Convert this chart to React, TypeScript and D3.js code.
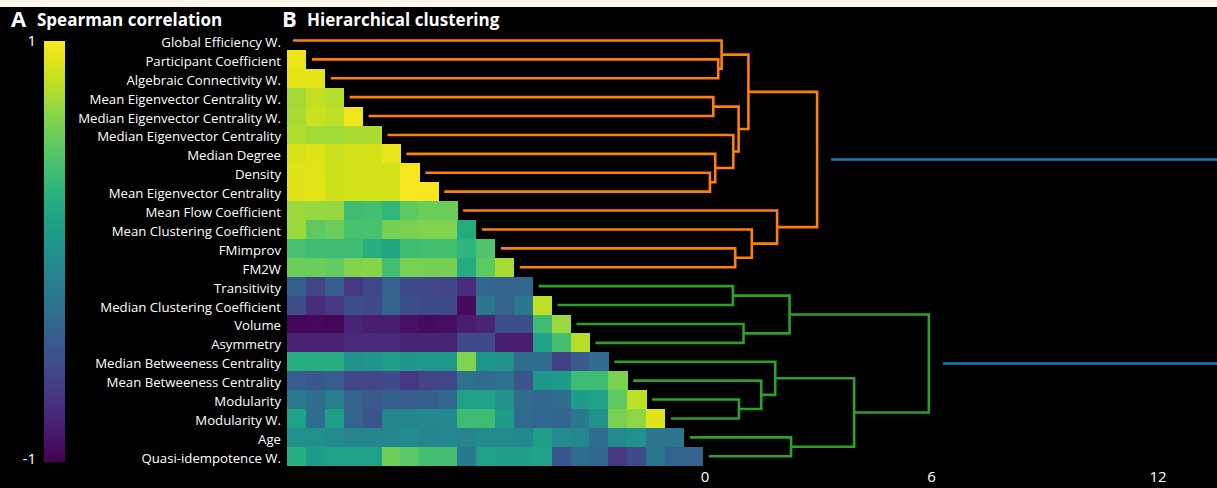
import React from "react";
import * as d3 from "d3";

const W = 1217;
const H = 488;

// Variables, in dendrogram leaf order (top to bottom)
const labels = [
  "Global Efficiency W.",
  "Participant Coefficient",
  "Algebraic Connectivity W.",
  "Mean Eigenvector Centrality W.",
  "Median Eigenvector Centrality W.",
  "Median Eigenvector Centrality",
  "Median Degree",
  "Density",
  "Mean Eigenvector Centrality",
  "Mean Flow Coefficient",
  "Mean Clustering Coefficient",
  "FMimprov",
  "FM2W",
  "Transitivity",
  "Median Clustering Coefficient",
  "Volume",
  "Asymmetry",
  "Median Betweeness Centrality",
  "Mean Betweeness Centrality",
  "Modularity",
  "Modularity W.",
  "Age",
  "Quasi-idempotence W.",
];

// Spearman correlations, lower triangle (row i holds columns 0..i-1)
const corr: number[][] = [
  [],
  [0.94],
  [0.92, 0.92],
  [0.72, 0.82, 0.78],
  [0.74, 0.84, 0.8, 0.96],
  [0.76, 0.72, 0.72, 0.74, 0.75],
  [0.88, 0.9, 0.85, 0.87, 0.87, 0.93],
  [0.9, 0.91, 0.85, 0.86, 0.86, 0.87, 0.97],
  [0.9, 0.92, 0.85, 0.86, 0.86, 0.86, 0.97, 0.98],
  [0.7, 0.68, 0.68, 0.38, 0.4, 0.32, 0.5, 0.55, 0.55],
  [0.7, 0.5, 0.55, 0.42, 0.42, 0.58, 0.6, 0.62, 0.62, 0.22],
  [0.42, 0.38, 0.38, 0.38, 0.25, 0.18, 0.38, 0.4, 0.4, 0.3, 0.45],
  [0.55, 0.55, 0.52, 0.62, 0.64, 0.4, 0.6, 0.58, 0.58, 0.22, 0.5, 0.74],
  [-0.4, -0.6, -0.42, -0.68, -0.57, -0.38, -0.55, -0.57, -0.6, -0.75, -0.35, -0.38, -0.35],
  [-0.52, -0.75, -0.68, -0.52, -0.55, -0.38, -0.52, -0.55, -0.55, -0.95, -0.2, -0.38, -0.2, 0.8],
  [-0.97, -0.96, -0.97, -0.8, -0.85, -0.85, -0.92, -0.95, -0.93, -0.85, -0.8, -0.52, -0.52, 0.38, 0.7],
  [-0.82, -0.82, -0.82, -0.76, -0.76, -0.78, -0.8, -0.8, -0.8, -0.55, -0.55, -0.84, -0.84, 0.15, 0.4, 0.78],
  [0.25, 0.25, 0.25, 0.02, 0.04, 0.12, 0.06, 0.08, 0.08, 0.62, 0.05, 0.0, -0.3, -0.3, -0.62, -0.43, -0.3],
  [-0.42, -0.46, -0.42, -0.58, -0.58, -0.55, -0.68, -0.6, -0.58, -0.25, -0.3, -0.25, -0.48, 0.05, 0.1, 0.38, 0.38, 0.6],
  [-0.18, -0.3, -0.15, -0.38, -0.45, -0.4, -0.42, -0.4, -0.35, 0.15, 0.15, 0.0, -0.3, -0.35, -0.3, 0.1, 0.15, 0.5, 0.8],
  [0.14, -0.3, 0.12, -0.38, -0.48, -0.1, -0.1, -0.08, -0.08, 0.38, 0.38, 0.1, -0.32, -0.35, -0.36, -0.2, 0.0, 0.6, 0.66, 0.9],
  [0.0, 0.02, -0.05, -0.1, -0.1, -0.08, -0.05, -0.1, -0.08, -0.1, -0.05, -0.05, -0.08, 0.12, -0.05, -0.08, -0.3, -0.05, 0.0, -0.22, -0.22],
  [0.25, 0.1, 0.14, 0.14, 0.14, 0.56, 0.48, 0.4, 0.4, -0.2, 0.14, 0.12, 0.12, 0.15, -0.48, -0.3, -0.35, -0.68, -0.55, -0.2, -0.38, -0.38],
];

// Linkage: [child a, child b, distance]; ids >= labels.length are earlier merges
const merges: [number, number, number][] = [
  [7, 8, 0.13], // 23
  [3, 4, 0.22], // 24
  [6, 23, 0.27], // 25
  [1, 2, 0.35], // 26
  [0, 26, 0.44], // 27
  [5, 25, 0.75], // 28
  [11, 12, 0.8], // 29
  [24, 28, 0.89], // 30
  [27, 30, 1.15], // 31
  [10, 29, 1.24], // 32
  [9, 32, 1.91], // 33
  [31, 33, 2.97], // 34
  [13, 14, 0.74], // 35
  [19, 20, 0.9], // 36
  [15, 16, 1.02], // 37
  [18, 36, 1.49], // 38
  [17, 38, 1.86], // 39
  [35, 37, 2.24], // 40
  [21, 22, 2.28], // 41
  [39, 41, 3.95], // 42
  [40, 42, 5.93], // 43
  [34, 43, 14.2], // 44
];

const clusterColors = ["#ff7f0e", "#2ca02c"];
const aboveColor = "#1f77b4";
const distTicks = [0, 6, 12];
const colorbarTicks = [1, -1];

export default function App() {
  const n = labels.length;
  const heat = { left: 287, top: 31, cell: 18.9 };

  const xCell = d3
    .scaleBand<number>()
    .domain(d3.range(n - 1))
    .range([heat.left, heat.left + (n - 1) * heat.cell]);
  const yRow = d3
    .scaleBand<number>()
    .domain(d3.range(n))
    .range([heat.top, heat.top + n * heat.cell]);
  const color = d3.scaleSequential(d3.interpolateViridis).domain([-1, 1]);
  const xDist = d3.scaleLinear().domain([0, 12]).range([705, 1158]);

  // cells
  const cells: { i: number; j: number; v: number }[] = [];
  corr.forEach((row, i) => row.forEach((v, j) => cells.push({ i, j, v })));

  // dendrogram node positions
  const nodes: { y: number; h: number }[] = labels.map((_, i) => ({
    y: (yRow(i) as number) + yRow.bandwidth() / 2,
    h: 0,
  }));
  merges.forEach(([a, b, h]) => nodes.push({ y: (nodes[a].y + nodes[b].y) / 2, h }));

  const rootId = nodes.length - 1;
  const group: number[] = new Array(nodes.length).fill(-1);
  const mark = (id: number, g: number) => {
    group[id] = g;
    if (id >= n) {
      const [a, b] = merges[id - n];
      mark(a, g);
      mark(b, g);
    }
  };
  const [rootA, rootB] = merges[rootId - n];
  mark(rootA, 0);
  mark(rootB, 1);

  const leafStart = (i: number) => (xCell(i) ?? heat.left + (n - 1) * heat.cell) + 6;
  const rootGap = 14;

  const links = merges.map(([a, b, h], k) => {
    const id = n + k;
    const isRoot = id === rootId;
    const startX = (c: number) =>
      c < n ? leafStart(c) : xDist(nodes[c].h) + (isRoot ? rootGap : 0);
    const xh = xDist(h);
    const d = `M${startX(a)},${nodes[a].y}H${xh}V${nodes[b].y}H${startX(b)}`;
    const stroke = isRoot ? aboveColor : clusterColors[group[id]];
    return { d, stroke, key: id };
  });

  const cb = { x: 44, y: 41, w: 21, h: 421 };
  const cbScale = d3.scaleLinear().domain([1, -1]).range([cb.y, cb.y + cb.h]);
  const stops = d3.range(0, 1.0001, 0.05);

  const font = "'Open Sans', 'DejaVu Sans', sans-serif";

  return (
    <svg
      width={W}
      height={H}
      style={{ position: "fixed", left: 0, top: 0, display: "block" }}
      fontFamily={font}
    >
      <defs>
        <linearGradient id="cbGrad" x1="0" y1="1" x2="0" y2="0">
          {stops.map((t) => (
            <stop key={t} offset={`${t * 100}%`} stopColor={d3.interpolateViridis(t)} />
          ))}
        </linearGradient>
      </defs>
      <rect x={0} y={0} width={W} height={H} fill="#000" />
      <rect x={0} y={0} width={W} height={7} fill="#fbf7ea" />

      {/* panel titles */}
      <text x={11} y={27} fill="#fff" fontWeight={700} fontSize={22}>
        A
      </text>
      <text x={37} y={26} fill="#fff" fontWeight={700} fontSize={17}>
        Spearman correlation
      </text>
      <text x={282} y={27} fill="#fff" fontWeight={700} fontSize={22}>
        B
      </text>
      <text x={307} y={26} fill="#fff" fontWeight={700} fontSize={17}>
        Hierarchical clustering
      </text>

      {/* colour bar */}
      <rect x={cb.x} y={cb.y} width={cb.w} height={cb.h} fill="url(#cbGrad)" />
      {colorbarTicks.map((t) => (
        <text
          key={t}
          x={cb.x - 8}
          y={cbScale(t) + (t > 0 ? 5 : 2)}
          fill="#fff"
          fontSize={15}
          textAnchor="end"
        >
          {t}
        </text>
      ))}

      {/* heatmap */}
      <g shapeRendering="crispEdges">
        {cells.map(({ i, j, v }) => (
          <rect
            key={`${i}-${j}`}
            x={xCell(j)}
            y={yRow(i)}
            width={xCell.bandwidth() + 0.4}
            height={yRow.bandwidth() + 0.4}
            fill={color(v)}
          />
        ))}
      </g>

      {/* row labels */}
      {labels.map((l, i) => (
        <text
          key={l}
          x={281}
          y={(yRow(i) as number) + yRow.bandwidth() / 2 + 6.5}
          fill="#fff"
          fontSize={13.2}
          textAnchor="end"
        >
          {l}
        </text>
      ))}

      {/* dendrogram */}
      <g fill="none" strokeWidth={2.6}>
        {links.map((l) => (
          <path key={l.key} d={l.d} stroke={l.stroke} />
        ))}
      </g>

      {/* distance axis labels */}
      {distTicks.map((t) => (
        <text key={t} x={xDist(t)} y={482} fill="#fff" fontSize={15} textAnchor="middle">
          {t}
        </text>
      ))}
    </svg>
  );
}
